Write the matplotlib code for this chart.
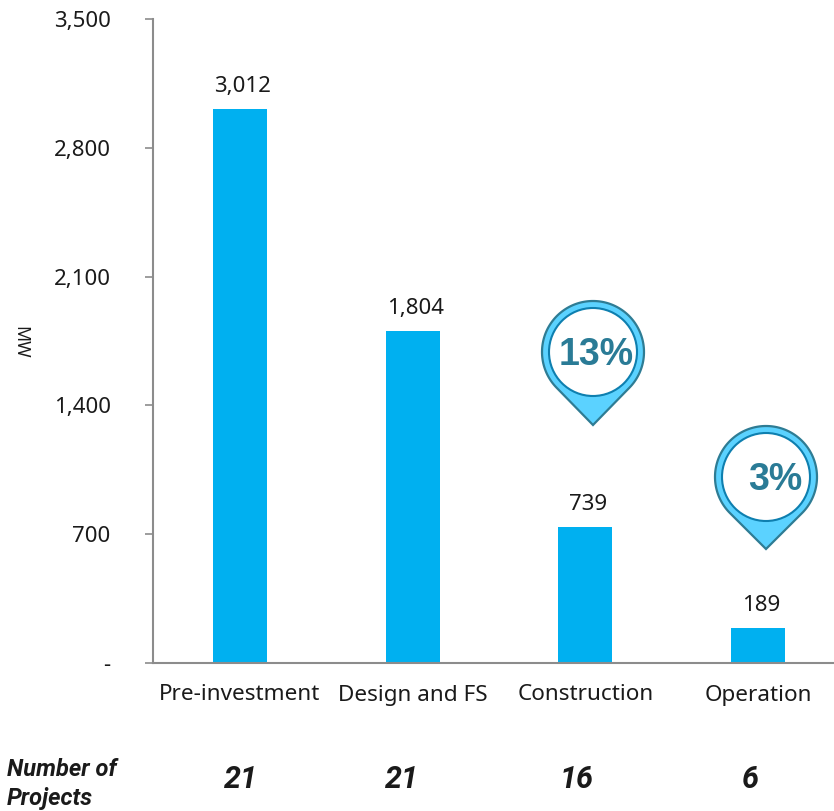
import numpy as np
import matplotlib
matplotlib.use("Agg")
import matplotlib.pyplot as plt
from matplotlib.patches import Circle, PathPatch
from matplotlib.path import Path

W, H = 834, 811
FONT = "Noto Sans"
ITALIC_FONT = "Roboto"

categories = ["Pre-investment", "Design and FS", "Construction", "Operation"]
mw_values = [3012, 1804, 739, 189]
project_counts = [21, 21, 16, 6]
y_ticks = [0, 700, 1400, 2100, 2800, 3500]
y_ticklabels = ["-", "700", "1,400", "2,100", "2,800", "3,500"]
pin_labels = ["13%", "3%"]

plt.rcParams["font.family"] = FONT

fig = plt.figure(figsize=(W / 100, H / 100), dpi=100)

# axes placed in pixels: y=0 at 663, 3500 at 19, spine at x=153
ax = fig.add_axes([153 / W, (H - 663) / H, (W - 153) / W, (663 - 19) / H])
step = 172.7
ax.bar(range(4), mw_values, width=54 / step, color="#00B0F0")
ax.set_xlim(-0.503, (W - 153) / step - 0.503)
ax.set_ylim(0, 3500)

for i, v in enumerate(mw_values):
    ax.annotate(f"{v:,}", (i, v), xytext=(3, 12), textcoords="offset pixels",
                ha="center", va="bottom", fontsize=16, color="#1a1a1a")

for s in ["top", "right"]:
    ax.spines[s].set_visible(False)
for s in ["left", "bottom"]:
    ax.spines[s].set_color("#8c8c8c")
    ax.spines[s].set_linewidth(1.5)

ax.set_yticks(y_ticks)
ax.set_yticklabels(y_ticklabels, fontsize=16, color="#1a1a1a")
ax.set_xticks([])
ax.tick_params(axis="y", length=6, width=1.2, color="#8c8c8c", pad=24.5)

# overlay in pixel coords for the labels below the axis and the map pins
ov = fig.add_axes([0, 0, 1, 1])
ov.set_xlim(0, W)
ov.set_ylim(H, 0)
ov.axis("off")
ov.patch.set_alpha(0)

ov.text(20, 342, "MW", rotation=270, ha="center", va="center", fontsize=12.8, color="#1a1a1a")

label_x = [240, 413, 586, 758]
count_x = [241, 402, 577, 750]
for x, c in zip(label_x, categories):
    ov.text(x, 695, c, ha="center", va="center", fontsize=16.2, color="#1a1a1a")
for x, n in zip(count_x, project_counts):
    ov.text(x, 779, str(n), ha="center", va="center", fontsize=22,
            family=ITALIC_FONT, style="italic", weight="bold", color="#1a1a1a")
ov.text(7, 770, "Number of", ha="left", va="center", fontsize=17,
        family=ITALIC_FONT, style="italic", weight="bold", color="#1a1a1a")
ov.text(7, 798, "Projects", ha="left", va="center", fontsize=17,
        family=ITALIC_FONT, style="italic", weight="bold", color="#1a1a1a")


def draw_pin(cx, cy, tip_y, label, tx):
    r = 51
    d = tip_y - cy
    a = np.arccos(r / d)
    # screen y points down, so the arc runs round the top between the tangent points
    t = np.linspace(np.pi / 2 + a, 2.5 * np.pi - a, 120)
    xs = cx + r * np.cos(t)
    ys = cy + r * np.sin(t)
    verts = list(zip(xs, ys)) + [(cx, tip_y), (xs[0], ys[0])]
    codes = [Path.MOVETO] + [Path.LINETO] * (len(verts) - 2) + [Path.CLOSEPOLY]
    ov.add_patch(PathPatch(Path(verts, codes), facecolor="#5BD2FF",
                           edgecolor="#2E7C94", linewidth=1.6, joinstyle="miter"))
    ov.add_patch(Circle((cx, cy), 44, facecolor="white", edgecolor="#0E7FAF", linewidth=1.5))
    ov.text(tx, cy + 3, label, ha="center", va="center", fontsize=27, weight="bold",
            family="Liberation Sans", color="#2A7B96")


draw_pin(593, 352, 425, pin_labels[0], 596)
draw_pin(766, 477, 549, pin_labels[1], 775)

fig.savefig("out.png", dpi=100)
